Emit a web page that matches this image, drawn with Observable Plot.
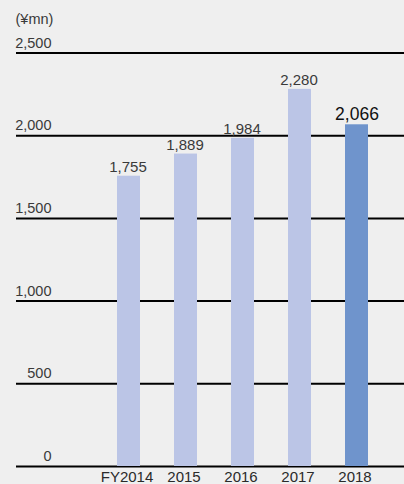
<!DOCTYPE html>
<html><head><meta charset="utf-8">
<script src="https://cdn.jsdelivr.net/npm/d3@7"></script>
<script src="https://cdn.jsdelivr.net/npm/@observablehq/plot@0.6"></script>
<style>
html,body{margin:0;padding:0;background:#efefef;}
svg{display:block;}
</style></head><body><div id="chart"></div>
<script>
const years = ["FY2014", "2015", "2016", "2017", "2018"];
const sales = [1755, 1889, 1984, 2280, 2066];
const highlight = [false, false, false, false, true];
const yTicks = [0, 500, 1000, 1500, 2000, 2500];
const unitLabel = "(¥mn)";

const data = years.map((year, i) => ({year, value: sales[i], hl: highlight[i]}));
const fmt = d3.format(",");
const base = data.filter(d => !d.hl);
const hi = data.filter(d => d.hl);

const chart = Plot.plot({
  width: 404, height: 484,
  marginTop: 0, marginBottom: 0, marginLeft: 16, marginRight: 0,
  style: {background: "#efefef", fontFamily: "'Liberation Sans', Arial, sans-serif", color: "#333"},
  x: {type: "band", domain: years, range: [98.75, 386.25], paddingInner: 0.6, paddingOuter: 0.3, label: null},
  y: {domain: [0, 2500], range: [466, 52.5], label: null},
  marks: [
    Plot.ruleY(yTicks, {stroke: "#000", strokeWidth: 2}),
    Plot.barY(base, {x: "year", y: "value", fill: "#bbc5e6"}),
    Plot.barY(hi, {x: "year", y: "value", fill: "#6f94cc"}),
    Plot.text(base, {x: "year", y: "value", text: d => fmt(d.value), lineAnchor: "bottom", dy: -4, dx: -1, fontSize: 15, fill: "#3a3a3a"}),
    Plot.text(hi, {x: "year", y: "value", text: d => fmt(d.value), lineAnchor: "bottom", dy: -5, fontSize: 17.5, fill: "#111"}),
    Plot.axisY(yTicks, {anchor: "left", tickSize: 0, tickPadding: 0, dx: 35, dy: -10, tickFormat: fmt, fontSize: 14.5, fill: "#3a3a3a"}),
    Plot.axisX({anchor: "bottom", tickSize: 0, tickPadding: 0, dy: -13, dx: -2, fontSize: 15, fill: "#2a2a2a"}),
    Plot.text([unitLabel], {frameAnchor: "top-left", textAnchor: "start", lineAnchor: "top", dx: -1, dy: 13, fontSize: 14.5, fill: "#3a3a3a"})
  ]
});
document.getElementById("chart").appendChild(chart);
</script>
</body></html>
